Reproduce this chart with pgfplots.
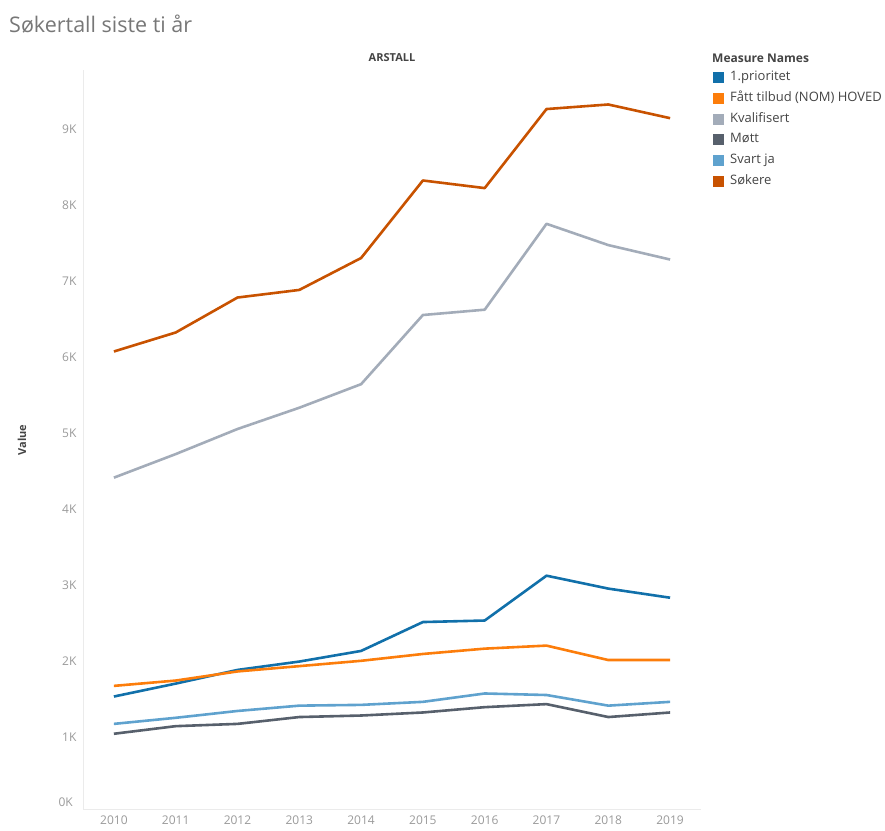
\documentclass[border=0pt]{standalone}
\usepackage{pgfplots}
\pgfplotsset{compat=1.18}
\usepackage{fontspec}
\setmainfont{Open Sans}
\definecolor{cbBlue}{HTML}{1170AA}
\definecolor{cbOrange}{HTML}{FC7D0B}
\definecolor{cbGray}{HTML}{A3ACB9}
\definecolor{cbDark}{HTML}{57606C}
\definecolor{cbLight}{HTML}{5FA2CE}
\definecolor{cbRust}{HTML}{C85200}
\definecolor{tickgray}{HTML}{9A9A9A}
\definecolor{titlegray}{HTML}{777777}
\definecolor{labgray}{HTML}{444444}
\begin{document}
\begin{tikzpicture}
\path[use as bounding box] (0pt,0pt) rectangle (885pt,830pt);
\node[anchor=west, text=titlegray, font=\fontsize{21.5}{21.5}\selectfont, inner sep=0] at (9pt,806pt) {Søkertall siste ti år};
\node[text=labgray, font=\bfseries\fontsize{11}{11}\selectfont, inner sep=0] at (392pt,772pt) {ARSTALL};
\node[text=labgray, font=\bfseries\fontsize{11}{11}\selectfont, inner sep=0, rotate=90] at (22pt,390pt) {Value};
\node[anchor=west, text=labgray, font=\bfseries\fontsize{12}{12}\selectfont, inner sep=0] at (712pt,772pt) {Measure Names};
\node[anchor=east, text=tickgray, font=\fontsize{12}{12}\selectfont, inner sep=0] at (73pt,28pt) {0K};
\begin{axis}[
  at={(83pt,21pt)}, anchor=south west,
  scale only axis, width=618pt, height=739pt,
  xmin=2009.5, xmax=2019.5, ymin=50, ymax=9774,
  axis x line*=bottom, axis y line*=left,
  axis line style={draw=black!8, line width=0.8pt, -},
  major tick length=0pt,
  xtick={2010,...,2019},
  xticklabels={2010,2011,2012,2013,2014,2015,2016,2017,2018,2019},
  ytick={1000,2000,3000,4000,5000,6000,7000,8000,9000},
  yticklabels={1K,2K,3K,4K,5K,6K,7K,8K,9K},
  tick label style={text=tickgray, font=\fontsize{12}{12}\selectfont},
  xticklabel style={yshift=-3pt},
  yticklabel style={xshift=-3pt},
  legend style={at={(rel axis cs:1.0194,0.9983)}, anchor=north west, draw=none, fill=none,
    font=\fontsize{13}{13}\selectfont, text=labgray, row sep=8.8pt, column sep=6pt, inner sep=0pt,
    nodes={inner sep=0pt, text height=9pt, text depth=3pt}},
  legend cell align=left,
  legend image code/.code={\fill[#1, draw=none, sharp corners] (0pt,-5.5pt) rectangle (11pt,5.5pt);},
  every axis plot/.append style={line width=2.6pt, line join=round},
]
\addplot[color=cbBlue] coordinates {(2010,1530)(2011,1700)(2012,1880)(2013,1990)(2014,2130)(2015,2510)(2016,2530)(2017,3120)(2018,2950)(2019,2830)};
\addlegendentry{1.prioritet}
\addplot[color=cbOrange] coordinates {(2010,1670)(2011,1740)(2012,1860)(2013,1930)(2014,2000)(2015,2090)(2016,2160)(2017,2200)(2018,2010)(2019,2010)};
\addlegendentry{Fått tilbud (NOM) HOVED}
\addplot[color=cbGray] coordinates {(2010,4410)(2011,4720)(2012,5050)(2013,5330)(2014,5640)(2015,6550)(2016,6620)(2017,7750)(2018,7470)(2019,7280)};
\addlegendentry{Kvalifisert}
\addplot[color=cbDark] coordinates {(2010,1040)(2011,1140)(2012,1170)(2013,1260)(2014,1280)(2015,1320)(2016,1390)(2017,1430)(2018,1260)(2019,1320)};
\addlegendentry{Møtt}
\addplot[color=cbLight] coordinates {(2010,1170)(2011,1250)(2012,1340)(2013,1410)(2014,1420)(2015,1460)(2016,1570)(2017,1550)(2018,1410)(2019,1460)};
\addlegendentry{Svart ja}
\addplot[color=cbRust] coordinates {(2010,6070)(2011,6320)(2012,6780)(2013,6880)(2014,7300)(2015,8320)(2016,8220)(2017,9260)(2018,9320)(2019,9140)};
\addlegendentry{Søkere}
\end{axis}
\end{tikzpicture}
\end{document}
